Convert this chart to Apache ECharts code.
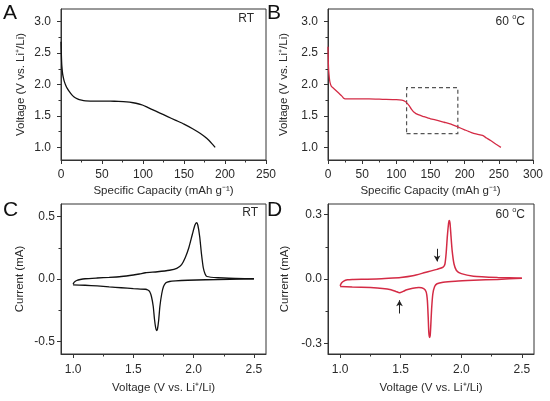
<!DOCTYPE html>
<html><head><meta charset="utf-8">
<script src="https://cdn.jsdelivr.net/npm/echarts@6/dist/echarts.min.js"></script>
<style>html,body{margin:0;padding:0;background:#fff}#c{width:550px;height:401px}</style>
</head><body><div id="c"></div>
<script>
// ---------- Panel A: discharge at RT ----------
const capacityRT = [0,0.5,1,2,3,4,6,8,10,13,16,20,25,30,40,50,60,70,80,88,95,100,105,110,120,130,140,150,160,170,178,184,188];
const voltageRT  = [2.68,2.45,2.3,2.17,2.1,2.05,1.98,1.93,1.89,1.84,1.80,1.77,1.75,1.74,1.737,1.736,1.735,1.732,1.725,1.71,1.69,1.67,1.64,1.61,1.55,1.49,1.43,1.37,1.30,1.22,1.14,1.06,1.0];
// ---------- Panel B: discharge at 60 C ----------
const capacity60 = [0,0.5,1,2,3,5,8,12,16,20,23,25,40,60,80,100,108,113,116,119,122,126,132,140,150,160,170,180,189,200,209,218,226,232,238,246,253];
const voltage60  = [2.6,2.35,2.22,2.1,2.03,1.97,1.94,1.90,1.86,1.82,1.78,1.77,1.77,1.77,1.765,1.76,1.75,1.73,1.70,1.66,1.61,1.56,1.52,1.49,1.455,1.43,1.40,1.37,1.33,1.28,1.24,1.21,1.19,1.15,1.11,1.05,1.0];
const boxCapacity = [115, 190];
const boxVoltage  = [1.22, 1.95];
// ---------- Panel C: CV at RT ----------
const cvRTUpV = [1.0,1.01,1.03,1.06,1.1,1.2,1.3,1.4,1.5,1.55,1.6,1.7,1.8,1.86,1.9,1.93,1.96,1.99,2.01,2.025,2.035,2.05,2.065,2.08,2.095,2.11,2.2,2.35,2.5];
const cvRTUpI = [-0.042,-0.025,-0.012,-0.004,0.002,0.008,0.013,0.02,0.032,0.04,0.05,0.058,0.07,0.085,0.115,0.17,0.25,0.36,0.43,0.45,0.43,0.34,0.2,0.09,0.04,0.02,0.01,0.005,0.002];
const cvRTDnV = [2.5,2.3,2.1,1.95,1.85,1.8,1.77,1.75,1.735,1.72,1.71,1.7,1.692,1.685,1.675,1.665,1.65,1.635,1.62,1.6,1.5,1.4,1.3,1.2,1.1,1.0];
const cvRTDnI = [0.002,-0.003,-0.006,-0.01,-0.015,-0.02,-0.03,-0.06,-0.12,-0.22,-0.33,-0.40,-0.412,-0.39,-0.32,-0.22,-0.14,-0.1,-0.088,-0.082,-0.077,-0.07,-0.063,-0.055,-0.05,-0.047];
// ---------- Panel D: CV at 60 C ----------
const cv60UpV = [1.0,1.01,1.03,1.06,1.1,1.2,1.3,1.4,1.5,1.6,1.7,1.8,1.85,1.865,1.875,1.885,1.895,1.9,1.907,1.915,1.925,1.94,1.96,2.0,2.1,2.3,2.5];
const cv60UpI = [-0.032,-0.02,-0.01,-0.004,-0.002,-0.001,0.0,0.003,0.007,0.015,0.03,0.045,0.055,0.07,0.12,0.2,0.26,0.273,0.26,0.2,0.13,0.07,0.04,0.025,0.013,0.007,0.004];
const cv60DnV = [2.5,2.3,2.1,1.95,1.85,1.8,1.78,1.765,1.755,1.748,1.743,1.738,1.732,1.727,1.72,1.71,1.69,1.65,1.6,1.55,1.52,1.49,1.46,1.42,1.35,1.25,1.1,1.0];
const cv60DnI = [0.004,-0.002,-0.006,-0.01,-0.015,-0.022,-0.035,-0.07,-0.14,-0.22,-0.265,-0.273,-0.25,-0.18,-0.1,-0.06,-0.045,-0.04,-0.043,-0.05,-0.058,-0.064,-0.058,-0.05,-0.044,-0.04,-0.037,-0.035];
const arrowV = [1.80, 1.49];
const arrowFrom = [0.141, -0.161];
const arrowTo = [0.082, -0.099];
// ---------- Tick values ----------
const capTicksA = [0,50,100,150,200,250], capMinorA = [25,75,125,175,225];
const capTicksB = [0,50,100,150,200,250,300], capMinorB = [25,75,125,175,225,275];
const voltTicks = [1.0,1.5,2.0,2.5,3.0], voltMinor = [1.25,1.75,2.25,2.75];
const cvVTicks = [1.0,1.5,2.0,2.5], cvVMinor = [1.25,1.75,2.25];
const curTicksC = [-0.5,0,0.5], curMinorC = [-0.25,0.25];
const curTicksD = [-0.3,0,0.3], curMinorD = [-0.15,0.15];

const zip = (a,b) => a.map((v,i)=>[v,b[i]]);
const AX = '#333', TXT = '#2a2a2a', FONT = 'Arial, "Liberation Sans", Helvetica, sans-serif';
const RED = '#d42b45';
const TICKFS = 12, NAMEFS = 11.5;

const xAxes = [], yAxes = [];
function addAxes(g, x, y){
  xAxes.push({type:'value', gridIndex:g, min:x.min, max:x.max, position:'bottom',
    axisLine:{show:true,onZero:false,lineStyle:{color:AX,width:1}},
    axisTick:{show:true,length:4,customValues:x.ticks,lineStyle:{color:AX,width:1}},
    axisLabel:{show:true,customValues:x.ticks,margin:x.margin,color:TXT,fontSize:TICKFS,fontFamily:FONT,formatter:x.fmt},
    splitLine:{show:false}, name:x.name, nameLocation:'middle', nameGap:x.nameGap,
    nameTextStyle:{color:TXT,fontSize:NAMEFS,fontFamily:FONT}});
  xAxes.push({type:'value', gridIndex:g, min:x.min, max:x.max, position:'bottom',
    axisLine:{show:false,onZero:false}, axisTick:{show:true,length:2.5,customValues:x.minor,lineStyle:{color:AX,width:1}},
    axisLabel:{show:false}, splitLine:{show:false}});
  yAxes.push({type:'value', gridIndex:g, min:y.min, max:y.max, position:'left',
    axisLine:{show:true,onZero:false,lineStyle:{color:AX,width:1}},
    axisTick:{show:true,length:4,customValues:y.ticks,lineStyle:{color:AX,width:1}},
    axisLabel:{show:true,customValues:y.ticks,margin:y.margin,color:TXT,fontSize:TICKFS,fontFamily:FONT,formatter:v=>Number(v).toFixed(1)},
    splitLine:{show:false}, name:y.name, nameLocation:'middle', nameGap:y.nameGap,
    nameTextStyle:{color:TXT,fontSize:NAMEFS,fontFamily:FONT}});
  yAxes.push({type:'value', gridIndex:g, min:y.min, max:y.max, position:'left',
    axisLine:{show:false,onZero:false}, axisTick:{show:true,length:2.5,customValues:y.minor,lineStyle:{color:AX,width:1}},
    axisLabel:{show:false}, splitLine:{show:false}});
}
const capName = 'Specific Capacity (mAh g\u207B\u00B9)';
const voltName = 'Voltage (V vs. Li\u207A/Li)';
addAxes(0, {min:0,max:250,ticks:capTicksA,minor:capMinorA,margin:9,fmt:v=>String(Math.round(v)),name:capName,nameGap:25},
           {min:0.8,max:3.2,ticks:voltTicks,minor:voltMinor,margin:10,name:voltName,nameGap:34});
addAxes(1, {min:0,max:300,ticks:capTicksB,minor:capMinorB,margin:9,fmt:v=>String(Math.round(v)),name:capName,nameGap:25},
           {min:0.8,max:3.2,ticks:voltTicks,minor:voltMinor,margin:10,name:voltName,nameGap:38});
addAxes(2, {min:0.9,max:2.6,ticks:cvVTicks,minor:cvVMinor,margin:10,fmt:v=>Number(v).toFixed(1),name:voltName,nameGap:28},
           {min:-0.6,max:0.6,ticks:curTicksC,minor:curMinorC,margin:6,name:'Current (mA)',nameGap:35});
addAxes(3, {min:0.9,max:2.6,ticks:cvVTicks,minor:cvVMinor,margin:10,fmt:v=>Number(v).toFixed(1),name:voltName,nameGap:28},
           {min:-0.35,max:0.35,ticks:curTicksD,minor:curMinorD,margin:6,name:'Current (mA)',nameGap:37});

const gridBase = {show:true, borderColor:AX, borderWidth:1, backgroundColor:'transparent'};
const grids = [
  Object.assign({left:61, top:9, width:205, height:151}, gridBase),
  Object.assign({left:328, top:9, width:205, height:151}, gridBase),
  Object.assign({left:61, top:204, width:205, height:150}, gridBase),
  Object.assign({left:328, top:204, width:206, height:150}, gridBase)
];

function line(g, data, color, extra){
  return Object.assign({type:'line', xAxisIndex:g*2, yAxisIndex:g*2, data, showSymbol:false, symbol:'none',
    smooth:0.2, lineStyle:{color, width:1.3}, itemStyle:{color}, animation:false, silent:true, z:3}, extra||{});
}

const series = [
  line(0, zip(capacityRT, voltageRT), '#111'),
  line(1, zip(capacity60, voltage60), RED, {
    markArea:{silent:true, itemStyle:{color:'rgba(0,0,0,0)', borderColor:'#555', borderWidth:1.2, borderType:[4,3]},
      data:[[{coord:[boxCapacity[0], boxVoltage[0]]},{coord:[boxCapacity[1], boxVoltage[1]]}]]}
  }),
  line(2, zip(cvRTUpV, cvRTUpI), '#111'),
  line(2, zip(cvRTDnV, cvRTDnI), '#111'),
  line(3, zip(cv60UpV, cv60UpI), RED, {lineStyle:{color:RED,width:1.5}}),
  line(3, zip(cv60DnV, cv60DnI), RED, {lineStyle:{color:RED,width:1.5},
    markLine:{silent:true, symbol:['none','arrow'], symbolSize:[5,6], label:{show:false},
      lineStyle:{color:'#222', width:1, type:'solid'},
      data: arrowV.map((v,i)=>[{coord:[v, arrowFrom[i]]},{coord:[v, arrowTo[i]]}])}
  })
];

function letter(t, x, y){ return {type:'text', left:x, top:y, style:{text:t, fontSize:21, fontFamily:FONT, fill:'#111'}}; }
function corner(rich, right, y){
  return {type:'text', right:right, top:y, style:{text:rich, fontSize:12, fontFamily:FONT, fill:TXT,
    rich:{n:{fontSize:12, lineHeight:18, fontFamily:FONT, fill:TXT, verticalAlign:'middle'},
          s:{fontSize:7.5, lineHeight:9, fontFamily:FONT, fill:TXT, verticalAlign:'top'}}}};
}

const chart = echarts.init(document.getElementById('c'));
chart.setOption({
  animation:false,
  backgroundColor:'#fff',
  grid: grids,
  xAxis: xAxes,
  yAxis: yAxes,
  series,
  graphic: [
    letter('A', 3, 3), letter('B', 267, 3), letter('C', 3, 200), letter('D', 267, 200),
    corner('{n|RT}', 550-254, 13),
    corner('{n|60 }{s|o}{n|C}', 550-525, 13),
    corner('{n|RT}', 550-258, 207),
    corner('{n|60 }{s|o}{n|C}', 550-525, 206)
  ]
});
</script></body></html>
